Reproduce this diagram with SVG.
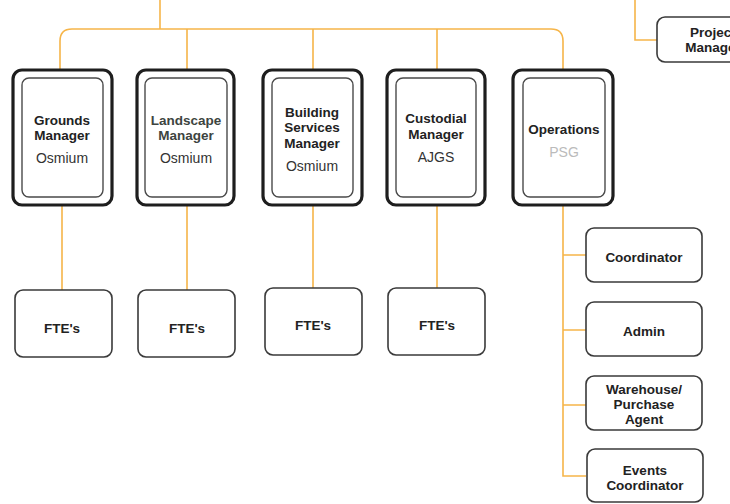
<svg xmlns="http://www.w3.org/2000/svg" width="730" height="504" viewBox="0 0 730 504">
<style>
.c{fill:none;stroke:#f6b549;stroke-width:1.6}
.o{fill:#fff;stroke:#1e1e1e;stroke-width:3.2}
.i{fill:#fff;stroke:#4a4a4a;stroke-width:1.4}
.b{fill:#fff;stroke:#3a3a3a;stroke-width:1.6}
.t{font-family:"Liberation Sans",Arial,sans-serif;font-weight:bold;font-size:13.5px;fill:#222;text-anchor:middle}
.s{font-family:"Liberation Sans",Arial,sans-serif;font-size:14px;fill:#333;text-anchor:middle}
</style>
<rect width="730" height="504" fill="#fff"/>
<g id="connectors">
<path class="c" d="M160 0V29"/>
<path class="c" d="M60 70V41Q60 29 72 29H551Q563 29 563 41V70"/>
<path class="c" d="M187 29V70M313 29V70M437 29V70"/>
<path class="c" d="M62 205V290M187 205V290M313 205V288M437 205V288"/>
<path class="c" d="M563 205V476H586M563 255H586M563 330H586M563 405H586"/>
<path class="c" d="M635 0V40H657"/>
</g>
<g id="grounds">
<rect class="o" x="13" y="70" width="99" height="135" rx="9"/>
<rect class="i" x="22" y="78" width="81" height="119" rx="7"/>
<text class="t" x="62" y="125">Grounds</text>
<text class="t" x="62" y="140">Manager</text>
<text class="s" x="62" y="163">Osmium</text>
</g>
<g id="landscape">
<rect class="o" x="137" y="70" width="97" height="135" rx="9"/>
<rect class="i" x="145" y="78" width="82" height="119" rx="7"/>
<text class="t" x="186" y="125" fill="#3d4440" style="fill:#3d4440">Landscape</text>
<text class="t" x="186" y="140" style="fill:#3d4440">Manager</text>
<text class="s" x="186" y="163">Osmium</text>
</g>
<g id="building">
<rect class="o" x="263" y="70" width="99" height="135" rx="9"/>
<rect class="i" x="272" y="78" width="81" height="119" rx="7"/>
<text class="t" x="312" y="117">Building</text>
<text class="t" x="312" y="132">Services</text>
<text class="t" x="312" y="148">Manager</text>
<text class="s" x="312" y="171">Osmium</text>
</g>
<g id="custodial">
<rect class="o" x="387" y="70" width="98" height="135" rx="9"/>
<rect class="i" x="396" y="78" width="80" height="119" rx="7"/>
<text class="t" x="436" y="123">Custodial</text>
<text class="t" x="436" y="139">Manager</text>
<text class="s" x="436" y="162">AJGS</text>
</g>
<g id="operations">
<rect class="o" x="513" y="70" width="100" height="135" rx="9"/>
<rect class="i" x="523" y="78" width="82" height="119" rx="7"/>
<text class="t" x="564" y="134">Operations</text>
<text class="s" x="564" y="157" style="fill:#bbb">PSG</text>
</g>
<g id="fte1"><rect class="b" x="15" y="290" width="97" height="67" rx="8"/><text class="t" x="62" y="333">FTE's</text></g>
<g id="fte2"><rect class="b" x="138" y="290" width="97" height="67" rx="8"/><text class="t" x="187" y="333">FTE's</text></g>
<g id="fte3"><rect class="b" x="265" y="288" width="97" height="67" rx="8"/><text class="t" x="313" y="330">FTE's</text></g>
<g id="fte4"><rect class="b" x="388" y="288" width="97" height="67" rx="8"/><text class="t" x="437" y="330">FTE's</text></g>
<g id="coordinator"><rect class="b" x="586" y="228" width="116" height="54" rx="8"/><text class="t" x="644" y="262">Coordinator</text></g>
<g id="admin"><rect class="b" x="586" y="302" width="116" height="54" rx="8"/><text class="t" x="644" y="336">Admin</text></g>
<g id="warehouse"><rect class="b" x="586" y="376" width="116" height="54" rx="8"/>
<text class="t" x="644" y="394">Warehouse/</text><text class="t" x="644" y="409">Purchase</text><text class="t" x="644" y="424">Agent</text></g>
<g id="events"><rect class="b" x="587" y="449" width="116" height="53" rx="8"/>
<text class="t" x="645" y="475">Events</text><text class="t" x="645" y="490">Coordinator</text></g>
<g id="project"><rect class="b" x="657" y="17" width="90" height="45" rx="8"/>
<text class="t" x="713" y="37">Project</text><text class="t" x="713" y="52">Manager</text></g>
</svg>
